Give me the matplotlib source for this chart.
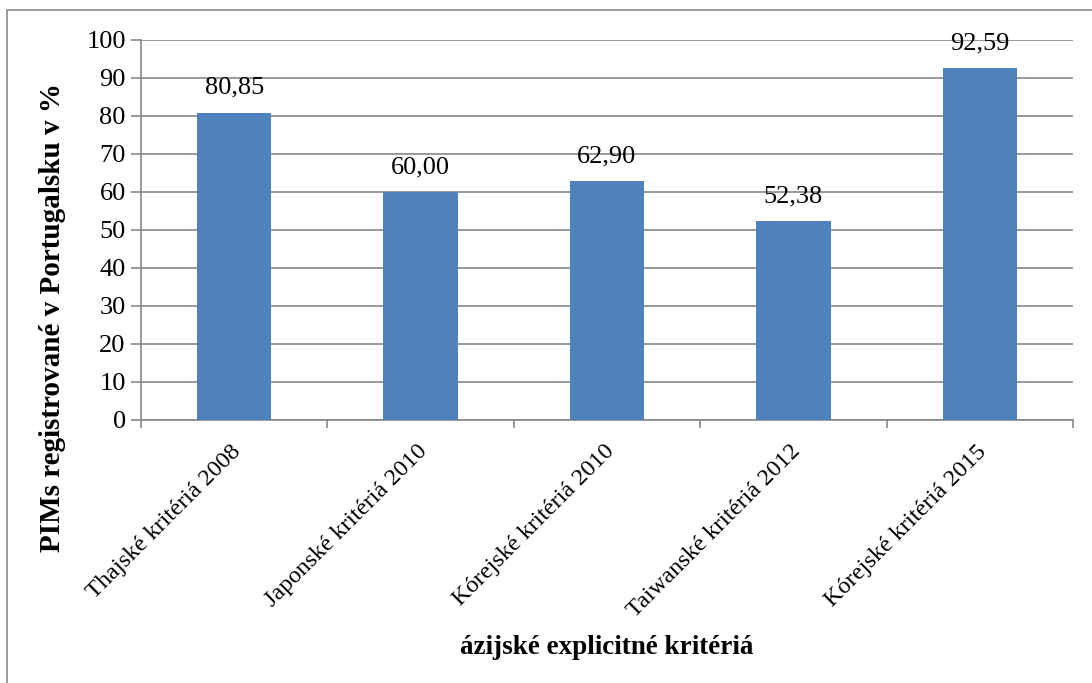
import matplotlib.pyplot as plt
from matplotlib.patches import Rectangle
import numpy as np

plt.rcParams['font.family'] = ['Liberation Serif', 'DejaVu Serif']

categories = ['Thajské kritériá 2008', 'Japonské kritériá 2010', 'Kórejské kritériá 2010',
              'Taiwanské kritériá 2012', 'Kórejské kritériá 2015']
values = [80.85, 60.00, 62.90, 52.38, 92.59]
yticks = [0, 10, 20, 30, 40, 50, 60, 70, 80, 90, 100]

W, H = 1092, 683
fig = plt.figure(figsize=(W / 100, H / 100), dpi=100)
# plot area in pixels: left 141, right 1073, top 40, bottom 420
ax = fig.add_axes([141 / W, 1 - 420 / H, (1073 - 141) / W, (420 - 40) / H])

# outer chart border
fig.patches.append(Rectangle((7 / W, -0.05), 1.1, 1 - 10 / H + 0.05, transform=fig.transFigure,
                             fill=False, edgecolor='#8c8c8c', linewidth=1.2))

x = np.arange(len(categories))
bars = ax.bar(x, values, width=0.4, color='#4F81BD', zorder=3)
for xi, v in zip(x, values):
    ax.annotate(f'{v:.2f}'.replace('.', ','), (xi, v), xytext=(0, 10), textcoords='offset points',
                ha='center', va='bottom', fontsize=19, zorder=4)

ax.set_xlim(-0.5, len(categories) - 0.5)
ax.set_ylim(0, 100)
ax.set_yticks(yticks)
ax.set_yticklabels([str(t) for t in yticks], fontsize=19)
ax.yaxis.grid(True, color='#878787', linewidth=1.2, zorder=0)
ax.tick_params(axis='y', length=7, width=1.2, color='#878787', pad=4)

# category ticks sit on the boundaries between bars
ax.set_xticks(np.arange(len(categories) + 1) - 0.5)
ax.set_xticklabels([])
ax.tick_params(axis='x', length=6, width=1.2, color='#878787')
for xi, lab in zip(x, categories):
    ax.text(xi - 0.02, -5.5, lab, rotation=45, rotation_mode='anchor', ha='right', va='top',
            fontsize=17.5)

for s in ['top', 'right']:
    ax.spines[s].set_visible(False)
for s in ['left', 'bottom']:
    ax.spines[s].set_color('#878787')
    ax.spines[s].set_linewidth(1.2)

fig.text(53 / W, 1 - 317 / H, 'PIMs registrované v Portugalsku v %', rotation=90,
         ha='center', va='center', fontsize=21, fontweight='bold')
fig.text(607 / W, 1 - 648 / H, 'ázijské explicitné kritériá', ha='center', va='center',
         fontsize=19.5, fontweight='bold')

fig.savefig('out.png', dpi=100)
